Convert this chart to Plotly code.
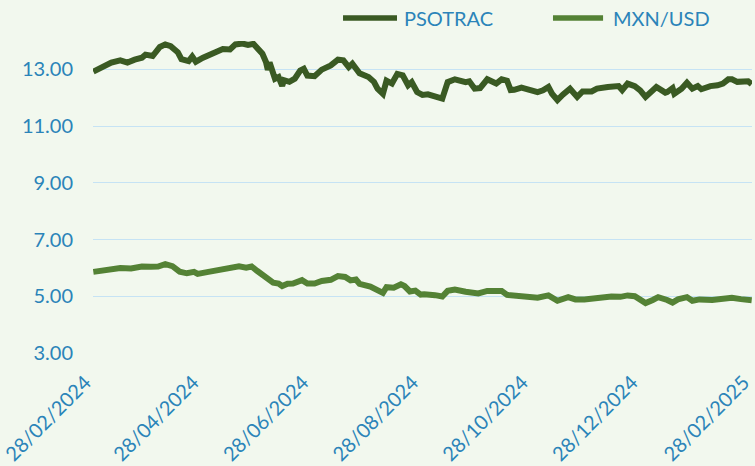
import plotly.graph_objects as go

# ---------------- data ----------------
psotrac_dates = [
    "2024-02-28", "2024-03-03", "2024-03-09", "2024-03-14", "2024-03-18", "2024-03-22",
    "2024-03-26", "2024-03-28", "2024-04-01", "2024-04-05", "2024-04-08", "2024-04-11",
    "2024-04-14", "2024-04-15", "2024-04-17", "2024-04-21", "2024-04-23", "2024-04-25",
    "2024-04-29", "2024-05-04", "2024-05-06", "2024-05-10", "2024-05-14", "2024-05-17",
    "2024-05-21", "2024-05-24", "2024-05-27", "2024-05-30", "2024-06-01", "2024-06-03",
    "2024-06-04", "2024-06-05", "2024-06-06", "2024-06-08", "2024-06-10", "2024-06-12",
    "2024-06-13", "2024-06-16", "2024-06-19", "2024-06-22", "2024-06-24", "2024-06-26",
    "2024-06-30", "2024-07-04", "2024-07-09", "2024-07-13", "2024-07-16", "2024-07-19",
    "2024-07-21", "2024-07-25", "2024-07-30", "2024-08-02", "2024-08-04", "2024-08-07",
    "2024-08-09", "2024-08-12", "2024-08-15", "2024-08-18", "2024-08-21", "2024-08-23",
    "2024-08-26", "2024-08-29", "2024-09-01", "2024-09-06", "2024-09-09", "2024-09-12",
    "2024-09-16", "2024-09-22", "2024-09-24", "2024-09-27", "2024-09-30", "2024-10-04",
    "2024-10-09", "2024-10-12", "2024-10-15", "2024-10-17", "2024-10-19", "2024-10-23",
    "2024-10-27", "2024-11-01", "2024-11-04", "2024-11-07", "2024-11-09", "2024-11-12",
    "2024-11-15", "2024-11-19", "2024-11-23", "2024-11-26", "2024-12-01", "2024-12-04",
    "2024-12-10", "2024-12-16", "2024-12-18", "2024-12-21", "2024-12-25", "2024-12-28",
    "2024-12-31", "2025-01-03", "2025-01-06", "2025-01-11", "2025-01-12", "2025-01-15",
    "2025-01-16", "2025-01-20", "2025-01-23", "2025-01-26", "2025-01-29", "2025-01-31",
    "2025-02-05", "2025-02-09", "2025-02-12", "2025-02-15", "2025-02-17", "2025-02-20",
    "2025-02-26", "2025-02-28",
]
psotrac_values = [
    12.92, 13.06, 13.24, 13.32, 13.24, 13.34,
    13.41, 13.52, 13.47, 13.79, 13.88, 13.82,
    13.67, 13.60, 13.36, 13.29, 13.45, 13.27,
    13.41, 13.55, 13.63, 13.72, 13.70, 13.88,
    13.91, 13.86, 13.90, 13.66, 13.55, 13.26,
    12.98, 13.24, 13.02, 12.67, 12.73, 12.42,
    12.62, 12.56, 12.67, 12.96, 13.02, 12.78,
    12.76, 12.99, 13.14, 13.34, 13.32, 13.08,
    13.20, 12.86, 12.73, 12.56, 12.32, 12.14,
    12.60, 12.50, 12.84, 12.79, 12.44, 12.55,
    12.20, 12.10, 12.12, 12.00, 11.97, 12.55,
    12.65, 12.55, 12.58, 12.32, 12.34, 12.65,
    12.50, 12.65, 12.60, 12.27, 12.28, 12.36,
    12.29, 12.20, 12.26, 12.38, 12.14, 11.92,
    12.11, 12.32, 12.03, 12.22, 12.22, 12.32,
    12.38, 12.41, 12.27, 12.50, 12.41, 12.26,
    12.03, 12.22, 12.38, 12.18, 12.20, 12.34,
    12.14, 12.32, 12.53, 12.32, 12.41, 12.30,
    12.41, 12.44, 12.50, 12.65, 12.65, 12.56,
    12.58, 12.48,
]

mxn_dates = [
    "2024-02-28", "2024-03-07", "2024-03-14", "2024-03-20", "2024-03-26", "2024-03-31",
    "2024-04-04", "2024-04-08", "2024-04-12", "2024-04-16", "2024-04-20", "2024-04-24",
    "2024-04-26", "2024-05-02", "2024-05-09", "2024-05-13", "2024-05-19", "2024-05-23",
    "2024-05-26", "2024-05-29", "2024-06-01", "2024-06-04", "2024-06-07", "2024-06-10",
    "2024-06-12", "2024-06-15", "2024-06-18", "2024-06-23", "2024-06-26", "2024-06-30",
    "2024-07-04", "2024-07-09", "2024-07-13", "2024-07-17", "2024-07-20", "2024-07-23",
    "2024-07-25", "2024-07-31", "2024-08-04", "2024-08-07", "2024-08-09", "2024-08-13",
    "2024-08-17", "2024-08-19", "2024-08-22", "2024-08-25", "2024-08-28", "2024-08-30",
    "2024-09-05", "2024-09-09", "2024-09-12", "2024-09-16", "2024-09-22", "2024-09-26",
    "2024-09-29", "2024-10-04", "2024-10-09", "2024-10-12", "2024-10-15", "2024-10-23",
    "2024-11-01", "2024-11-07", "2024-11-12", "2024-11-18", "2024-11-22", "2024-11-27",
    "2024-12-04", "2024-12-12", "2024-12-17", "2024-12-21", "2024-12-25", "2024-12-28",
    "2024-12-31", "2025-01-04", "2025-01-07", "2025-01-12", "2025-01-15", "2025-01-18",
    "2025-01-23", "2025-01-26", "2025-01-30", "2025-02-06", "2025-02-13", "2025-02-17",
    "2025-02-22", "2025-02-28",
]
mxn_values = [
    5.86, 5.94, 6.00, 5.98, 6.05, 6.04,
    6.05, 6.13, 6.06, 5.87, 5.81, 5.86,
    5.79, 5.86, 5.94, 5.98, 6.06, 6.01,
    6.05, 5.90, 5.76, 5.68, 5.48, 5.45,
    5.36, 5.44, 5.45, 5.57, 5.45, 5.45,
    5.54, 5.58, 5.71, 5.68, 5.56, 5.59,
    5.44, 5.34, 5.22, 5.12, 5.32, 5.30,
    5.42, 5.36, 5.17, 5.20, 5.06, 5.07,
    5.04, 4.99, 5.19, 5.24, 5.16, 5.11,
    5.10, 5.19, 5.16, 5.19, 5.05, 5.00,
    4.95, 5.03, 4.84, 4.97, 4.89, 4.89,
    4.96, 4.99, 4.98, 5.03, 5.00, 4.90,
    4.76, 4.87, 4.97, 4.87, 4.78, 4.89,
    4.97, 4.84, 4.89, 4.87, 4.92, 4.95,
    4.90, 4.86,
]

tick_dates = ["2024-02-28", "2024-04-28", "2024-06-28", "2024-08-28",
              "2024-10-28", "2024-12-28", "2025-02-28"]
tick_labels = ["28/02/2024", "28/04/2024", "28/06/2024", "28/08/2024",
               "28/10/2024", "28/12/2024", "28/02/2025"]
y_ticks = [3, 5, 7, 9, 11, 13]
y_labels = ["3.00", "5.00", "7.00", "9.00", "11.00", "13.00"]

series_names = ["PSOTRAC", "MXN/USD"]
series_colors = ["#3A5A23", "#548235"]

# ---------------- figure ----------------
BG = "#F2F8EE"
TXT = "#2B84B9"
FONT = "Lato, Open Sans, sans-serif"

fig = go.Figure()
fig.add_trace(go.Scatter(x=psotrac_dates, y=psotrac_values, mode="lines",
                         name=series_names[0], showlegend=False,
                         line=dict(color=series_colors[0], width=6)))
fig.add_trace(go.Scatter(x=mxn_dates, y=mxn_values, mode="lines",
                         name=series_names[1], showlegend=False,
                         line=dict(color=series_colors[1], width=6)))

# legend drawn manually (long line samples like the original)
legend_items = [(0.3794, 0.4613, 0.4689), (0.6980, 0.7740, 0.7860)]
ly = 1.0737
for (x0, x1, xt), name, col in zip(legend_items, series_names, series_colors):
    fig.add_shape(type="line", xref="paper", yref="paper", x0=x0, x1=x1, y0=ly, y1=ly,
                  line=dict(color=col, width=5.5))
    fig.add_annotation(xref="paper", yref="paper", x=xt, y=ly, text=name,
                       showarrow=False, xanchor="left", yanchor="middle",
                       font=dict(family=FONT, size=20, color=TXT))

fig.update_layout(
    width=755, height=466,
    margin=dict(l=93, r=3, t=41, b=113, autoexpand=False),
    paper_bgcolor=BG, plot_bgcolor=BG,
    font=dict(family=FONT, color=TXT),
    showlegend=False,
)
fig.update_xaxes(
    range=["2024-02-27 20:00", "2025-02-28 04:00"],
    tickvals=tick_dates, ticktext=tick_labels, tickangle=-45,
    tickfont=dict(family=FONT, size=20, color=TXT),
    showgrid=False, zeroline=False, showline=False, automargin=False,
    ticks="outside", ticklen=9, tickcolor=BG, ticklabeloverflow="allow",
    ticklabelshift=-8,
)
fig.update_yaxes(
    range=[3, 14],
    tickvals=y_ticks, ticktext=y_labels,
    tickfont=dict(family=FONT, size=20, color=TXT),
    showgrid=True, gridcolor="#C6E3F4", gridwidth=1,
    zeroline=False, showline=False, automargin=False,
    ticks="outside", ticklen=15, tickcolor=BG,
)

fig.write_html(
    "out.html",
    config={"displayModeBar": False},
    post_script="document.body.style.margin='0';document.body.style.background='%s';"
                "document.body.style.overflow='hidden';" % BG,
)
